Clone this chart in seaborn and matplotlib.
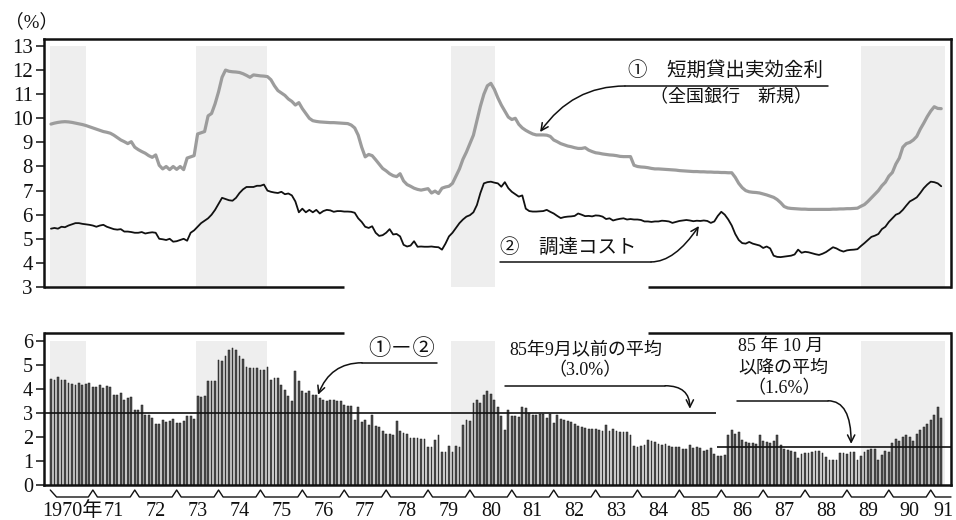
import numpy as np
import pandas as pd
import matplotlib
matplotlib.use("Agg")
import matplotlib.pyplot as plt
import matplotlib.transforms as mtransforms
import seaborn as sns

# ---------------- data (monthly, Jan 1970 - Apr 1991) ----------------
# ① 短期貸出実効金利（全国銀行 新規） %
lending_rate = [
    9.76, 9.80, 9.83, 9.85, 9.86, 9.85, 9.83, 9.80, 9.77, 9.74, 9.70, 9.65,      # 1970
    9.60, 9.55, 9.50, 9.45, 9.42, 9.38, 9.30, 9.20, 9.10, 9.03, 8.95, 9.03,      # 1971
    8.80, 8.70, 8.62, 8.55, 8.45, 8.38, 8.48, 8.05, 7.90, 8.00, 7.87, 8.00,      # 1972
    7.88, 8.00, 7.87, 8.35, 8.40, 8.45, 9.35, 9.40, 9.45, 10.10, 10.20, 10.60,   # 1973
    11.10, 11.70, 12.00, 11.95, 11.93, 11.92, 11.90, 11.85, 11.78, 11.70, 11.80, 11.78,  # 1974
    11.76, 11.75, 11.73, 11.60, 11.35, 11.15, 11.05, 10.95, 10.80, 10.70, 10.55, 10.65,  # 1975
    10.40, 10.20, 10.00, 9.90, 9.87, 9.85, 9.84, 9.83, 9.82, 9.82, 9.81, 9.80,   # 1976
    9.79, 9.78, 9.72, 9.60, 9.30, 8.80, 8.40, 8.50, 8.45, 8.28, 8.10, 7.92,      # 1977
    7.82, 7.70, 7.62, 7.58, 7.70, 7.40, 7.25, 7.18, 7.10, 7.05, 7.02, 7.05,      # 1978
    7.08, 6.90, 6.98, 6.88, 7.10, 7.15, 7.18, 7.30, 7.60, 7.90, 8.30, 8.60,      # 1979
    8.95, 9.30, 9.90, 10.50, 11.00, 11.35, 11.45, 11.20, 10.85, 10.55, 10.30, 10.05,  # 1980
    9.95, 10.00, 9.75, 9.60, 9.50, 9.42, 9.35, 9.31, 9.31, 9.31, 9.30, 9.25,     # 1981
    9.10, 9.03, 8.95, 8.90, 8.85, 8.82, 8.78, 8.75, 8.75, 8.78, 8.68, 8.62,      # 1982
    8.57, 8.55, 8.52, 8.50, 8.48, 8.47, 8.45, 8.42, 8.41, 8.41, 8.41, 8.05,      # 1983
    8.00, 7.98, 7.97, 7.95, 7.92, 7.90, 7.90, 7.89, 7.88, 7.87, 7.86, 7.85,      # 1984
    7.83, 7.82, 7.81, 7.80, 7.79, 7.79, 7.78, 7.78, 7.77, 7.77, 7.76, 7.76,      # 1985
    7.75, 7.75, 7.74, 7.74, 7.55, 7.30, 7.12, 7.00, 6.95, 6.93, 6.92, 6.90,      # 1986
    6.86, 6.82, 6.77, 6.72, 6.63, 6.50, 6.34, 6.28, 6.26, 6.25, 6.24, 6.23,      # 1987
    6.23, 6.22, 6.22, 6.22, 6.22, 6.22, 6.22, 6.22, 6.23, 6.23, 6.24, 6.24,      # 1988
    6.25, 6.25, 6.26, 6.27, 6.35, 6.42, 6.55, 6.70, 6.85, 7.00, 7.20, 7.35,      # 1989
    7.60, 7.75, 8.10, 8.35, 8.80, 8.95, 9.00, 9.10, 9.25, 9.55, 9.80, 10.07,     # 1990
    10.30, 10.48, 10.41, 10.40,                                                  # 1991
]

# ② 調達コスト %
funding_cost = [
    5.42, 5.45, 5.42, 5.50, 5.48, 5.55, 5.60, 5.65, 5.65, 5.62, 5.60, 5.58,      # 1970
    5.55, 5.50, 5.55, 5.58, 5.50, 5.45, 5.40, 5.38, 5.40, 5.30, 5.30, 5.28,      # 1971
    5.25, 5.25, 5.28, 5.22, 5.25, 5.27, 5.25, 5.00, 4.98, 4.95, 5.00, 4.88,      # 1972
    4.90, 4.95, 5.00, 4.92, 5.25, 5.35, 5.50, 5.65, 5.75, 5.85, 6.00, 6.20,      # 1973
    6.45, 6.70, 6.65, 6.60, 6.58, 6.70, 6.90, 7.05, 7.15, 7.15, 7.15, 7.20,      # 1974
    7.20, 7.25, 7.00, 6.95, 6.92, 6.90, 6.95, 6.85, 6.88, 6.80, 6.55, 6.10,      # 1975
    6.25, 6.10, 6.20, 6.10, 6.20, 6.05, 6.15, 6.20, 6.18, 6.12, 6.15, 6.15,      # 1976
    6.13, 6.13, 6.12, 6.08, 5.85, 5.70, 5.50, 5.45, 5.52, 5.25, 5.12, 5.15,      # 1977
    5.25, 5.40, 5.18, 5.20, 5.10, 4.75, 4.68, 4.72, 4.90, 4.67, 4.68, 4.67,      # 1978
    4.67, 4.68, 4.66, 4.65, 4.55, 4.80, 5.10, 5.25, 5.45, 5.65, 5.80, 5.92,      # 1979
    5.98, 6.10, 6.40, 6.90, 7.30, 7.35, 7.37, 7.33, 7.30, 7.16, 7.35, 7.10,      # 1980
    6.95, 6.85, 6.75, 6.80, 6.25, 6.15, 6.13, 6.13, 6.14, 6.15, 6.20, 6.12,      # 1981
    6.05, 5.95, 5.86, 5.90, 5.92, 5.93, 5.95, 6.05, 6.00, 5.94, 5.95, 5.93,      # 1982
    5.97, 5.96, 5.92, 5.82, 5.85, 5.76, 5.80, 5.83, 5.85, 5.80, 5.82, 5.80,      # 1983
    5.80, 5.78, 5.72, 5.72, 5.70, 5.72, 5.72, 5.75, 5.74, 5.72, 5.66, 5.70,      # 1984
    5.74, 5.76, 5.78, 5.76, 5.73, 5.75, 5.74, 5.76, 5.74, 5.66, 5.72, 5.95,      # 1985
    6.12, 6.00, 5.80, 5.55, 5.20, 4.95, 4.82, 4.80, 4.87, 4.80, 4.76, 4.72,      # 1986
    4.62, 4.68, 4.60, 4.30, 4.25, 4.24, 4.26, 4.28, 4.30, 4.35, 4.55, 4.42,      # 1987
    4.46, 4.44, 4.40, 4.36, 4.33, 4.38, 4.45, 4.55, 4.65, 4.60, 4.52, 4.47,      # 1988
    4.52, 4.54, 4.55, 4.57, 4.70, 4.82, 4.95, 5.08, 5.13, 5.20, 5.40, 5.50,      # 1989
    5.70, 5.85, 6.00, 6.06, 6.20, 6.38, 6.55, 6.63, 6.72, 6.90, 7.10, 7.25,      # 1990
    7.37, 7.35, 7.30, 7.18,                                                      # 1991
]

# ①−② (bars) %
spread = [
    4.40, 4.35, 4.49, 4.35, 4.35, 4.24, 4.19, 4.17, 4.24, 4.14, 4.19, 4.24,      # 1970
    4.07, 4.07, 4.14, 4.03, 4.10, 4.07, 3.75, 3.75, 3.82, 3.54, 3.61, 3.64,      # 1971
    3.13, 3.13, 3.31, 2.92, 2.92, 2.78, 2.53, 2.53, 2.71, 2.61, 2.67, 2.75,      # 1972
    2.57, 2.57, 2.64, 2.85, 2.85, 2.74, 3.68, 3.64, 3.68, 4.31, 4.33, 4.31,      # 1973
    5.21, 5.17, 5.35, 5.63, 5.69, 5.63, 5.35, 5.25, 4.90, 4.86, 4.86, 4.86,      # 1974
    4.78, 4.78, 4.89, 4.38, 4.44, 4.44, 4.14, 3.96, 3.68, 3.51, 4.72, 4.33,      # 1975
    3.89, 3.82, 3.89, 3.75, 3.72, 3.61, 3.54, 3.51, 3.54, 3.54, 3.50, 3.50,      # 1976
    3.33, 3.29, 3.29, 2.71, 3.26, 2.60, 2.71, 2.50, 2.92, 2.47, 2.43, 2.26,      # 1977
    2.13, 2.13, 2.06, 2.67, 2.26, 2.18, 2.11, 1.97, 1.94, 1.94, 1.92, 1.92,      # 1978
    1.57, 1.60, 1.88, 2.08, 1.39, 1.39, 1.63, 1.36, 1.63, 1.56, 2.50, 2.71,      # 1979
    2.67, 3.40, 3.54, 3.40, 3.75, 3.92, 3.78, 3.54, 3.26, 2.85, 2.29, 3.13,      # 1980
    2.85, 2.85, 2.81, 3.26, 3.19, 2.99, 2.89, 2.89, 2.94, 2.94, 2.78, 2.94,      # 1981
    2.57, 2.92, 2.75, 2.71, 2.67, 2.61, 2.53, 2.47, 2.39, 2.36, 2.33, 2.33,      # 1982
    2.31, 2.29, 2.25, 2.50, 2.25, 2.33, 2.25, 2.22, 2.19, 2.22, 2.08, 1.64,      # 1983
    1.60, 1.63, 1.67, 1.85, 1.83, 1.78, 1.70, 1.68, 1.70, 1.62, 1.60, 1.60,      # 1984
    1.60, 1.50, 1.50, 1.67, 1.53, 1.56, 1.53, 1.40, 1.45, 1.53, 1.30, 1.22,      # 1985
    1.20, 1.25, 2.08, 2.29, 2.10, 2.22, 1.88, 1.78, 1.74, 1.74, 1.72, 2.08,      # 1986
    1.83, 1.78, 1.74, 1.83, 2.08, 1.67, 1.50, 1.46, 1.42, 1.39, 1.11, 1.28,      # 1987
    1.32, 1.32, 1.39, 1.42, 1.42, 1.32, 1.18, 1.04, 1.04, 1.04, 1.32, 1.32,      # 1988
    1.28, 1.39, 1.39, 1.04, 1.22, 1.39, 1.46, 1.50, 1.50, 1.04, 1.25, 1.42,      # 1989
    1.36, 1.75, 1.92, 1.83, 2.00, 2.08, 2.00, 1.83, 2.11, 2.29, 2.43, 2.53,      # 1990
    2.71, 2.92, 3.26, 2.80,                                                      # 1991
]

# shaded periods (month index from Jan 1970)
shade_periods = [(-0.2, 9.9), (41.5, 62.0), (114.7, 127.2), (232.0, 256.0)]

# averages of ①−②
avg_values = [3.0, 1.6]
avg_split = 190.5          # boundary between the two averages (month index)

year_labels = ["1970年"] + [f"{y % 100:02d}" for y in range(1971, 1992)]
year_label_pos = [12 * k + 6 for k in range(21)] + [255.5]
year_bounds = [12 * k for k in range(1, 22)]

# ---------------- style ----------------
sns.set_style("white")
plt.rcParams['font.family'] = ['Liberation Serif', 'Noto Sans CJK JP', 'DejaVu Sans']
plt.rcParams['axes.unicode_minus'] = False
INK = '#111111'

months = np.arange(len(lending_rate))
df = pd.DataFrame({'month': months, 'lending': lending_rate, 'cost': funding_cost})
dfb = pd.DataFrame({'month': np.arange(len(spread)), 'spread': spread})

W, H = 956, 520
fig = plt.figure(figsize=(W / 100, H / 100), dpi=100)
ax1 = fig.add_axes([44 / W, 1 - 287 / H, 907 / W, 248 / H])
ax2 = fig.add_axes([44 / W, 1 - 485 / H, 907 / W, 152.3 / H])

XL = (-2.0, 257.8)

# shading
for a, b in shade_periods:
    ax1.fill_between([a, b], 3, 13, color='#eeeeee', lw=0, zorder=0)
    ax2.fill_between([a, b], 0, 6, color='#eeeeee', lw=0, zorder=0)

# lines
sns.lineplot(data=df, x='month', y='lending', ax=ax1, color='#9c9c9c', lw=2.3, zorder=3)
sns.lineplot(data=df, x='month', y='cost', ax=ax1, color=INK, lw=1.3, zorder=4)

# bars
sns.barplot(data=dfb, x='month', y='spread', ax=ax2, native_scale=True, width=0.52,
            color='#505050', saturation=1, errorbar=None, edgecolor='#1a1a1a',
            linewidth=0.35, zorder=2)

# average lines
ax2.hlines(avg_values[0], XL[0], avg_split, color=INK, lw=1.2, zorder=4)
ax2.hlines(avg_values[1], avg_split + 0.3, XL[1], color=INK, lw=1.2, zorder=4)

# axes cosmetics
for ax in (ax1, ax2):
    ax.set_xlim(*XL)
    ax.set_xlabel('')
    ax.set_ylabel('')
    ax.set_xticks([])
    ax.tick_params(axis='y', direction='out', length=6, width=1.1, pad=2,
                   colors=INK, left=True)
    for s in ax.spines.values():
        s.set_linewidth(1.8)
        s.set_color(INK)
    ax.set_facecolor('none')

ax1.set_ylim(3, 13.29)
ax1.set_yticks(range(3, 14))
ax1.tick_params(axis='y', labelsize=15)
ax2.set_ylim(0, 6.33)
ax2.set_yticks(range(0, 7))
ax2.tick_params(axis='y', labelsize=14.5)

# broken frame pieces
ax1.spines['bottom'].set_visible(False)
ax2.spines['top'].set_visible(False)
for ax, yy in ((ax1, 0.0), (ax2, 1.0)):
    ax.plot([0, 0.331], [yy, yy], transform=ax.transAxes, clip_on=False,
            color=INK, lw=1.8, solid_capstyle='butt', zorder=6)
    ax.plot([0.666, 1.0], [yy, yy], transform=ax.transAxes, clip_on=False,
            color=INK, lw=1.8, solid_capstyle='butt', zorder=6)

# year zig-zag and labels
trans = mtransforms.blended_transform_factory(ax2.transData, ax2.transAxes)
yb, yp = (485 - 497) / 152.3, (485 - 490) / 152.3
zx, zy = [-0.2, 1.6], [yp, yb]
for b in year_bounds:
    zx += [b - 1.3, b, b + 1.3]
    zy += [yb, yp, yb]
zx.append(XL[1])
zy.append(yb)
ax2.plot(zx, zy, transform=trans, clip_on=False, color=INK, lw=1.0)
ylab = (485 - 516.5) / 152.3
for pos, lab in zip(year_label_pos, year_labels):
    ax2.text(pos, ylab, lab, transform=trans, ha='center', va='baseline',
             fontsize=14.5, color=INK)

# (%)
fig.text(5 / W, 1 - 22 / H, '（%）', ha='left', va='center', fontsize=13.5, color=INK)

ap = dict(arrowstyle='->', lw=1.1, color=INK, shrinkA=0, shrinkB=0, mutation_scale=13)

# ---- top annotations ----
ax1.text(165.3, 12.0, '①　短期貸出実効金利', ha='left', va='center', fontsize=14, color=INK)
ax1.plot([164.4, 222.6], [11.34, 11.34], color=INK, lw=1.1)
ax1.text(194.8, 10.84, '（全国銀行　新規）', ha='center', va='center', fontsize=13, color=INK)
ax1.annotate('', xy=(140.1, 9.43), xytext=(164.4, 11.34),
             arrowprops=dict(ap, connectionstyle='angle3,angleA=0,angleB=55'))

ax1.text(128.6, 4.66, '②　調達コスト', ha='left', va='center', fontsize=14, color=INK)
ax1.plot([128.6, 171.9], [4.04, 4.04], color=INK, lw=1.1)
ax1.annotate('', xy=(185.6, 5.53), xytext=(171.9, 4.04),
             arrowprops=dict(ap, connectionstyle='angle3,angleA=0,angleB=56'))

# ---- bottom annotations ----
ax2.text(90.8, 5.63, '①－②', ha='left', va='center', fontsize=16, color=INK)
ax2.plot([89.1, 110.6], [5.08, 5.08], color=INK, lw=1.1)
ax2.annotate('', xy=(76.5, 3.75), xytext=(89.1, 5.08),
             arrowprops=dict(ap, connectionstyle='angle3,angleA=0,angleB=69'))

ax2.text(153.2, 5.63, '85年9月以前の平均', ha='center', va='center', fontsize=13, color=INK)
ax2.text(153.0, 4.75, '（3.0%）', ha='center', va='center', fontsize=13, color=INK)
ax2.plot([130.0, 175.9], [4.125, 4.125], color=INK, lw=1.1)
ax2.annotate('', xy=(183.0, 3.17), xytext=(175.9, 4.125),
             arrowprops=dict(ap, connectionstyle='angle3,angleA=0,angleB=90'))

ax2.text(196.8, 5.75, '85 年 10 月', ha='left', va='center', fontsize=13, color=INK)
ax2.text(196.8, 4.875, '以降の平均', ha='left', va='center', fontsize=13, color=INK)
ax2.text(210.0, 4.02, '（1.6%）', ha='center', va='center', fontsize=13, color=INK)
ax2.plot([196.5, 222.6], [3.5, 3.5], color=INK, lw=1.1)
ax2.annotate('', xy=(229.2, 1.71), xytext=(222.6, 3.5),
             arrowprops=dict(ap, connectionstyle='angle3,angleA=0,angleB=90'))

fig.savefig('out.png', dpi=100)
